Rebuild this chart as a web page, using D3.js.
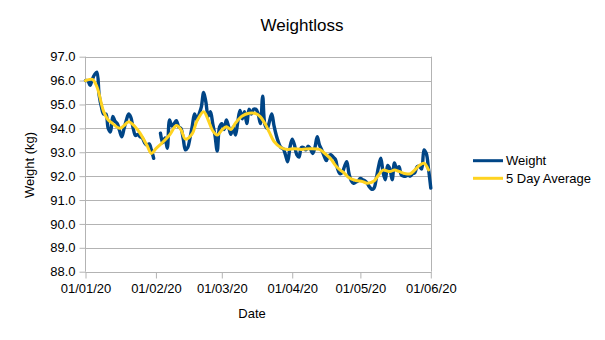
<!DOCTYPE html>
<html>
<head>
<meta charset="utf-8">
<script src="https://cdn.jsdelivr.net/npm/d3@7"></script>
<style>
  html, body { margin: 0; padding: 0; background: #fff; }
  svg { display: block; font-family: "Liberation Sans", Arial, sans-serif; }
</style>
</head>
<body>
<svg id="chart" width="605" height="340"></svg>
<script>
// ---- data ----
const startDate = "2020-01-01";   // daily readings from this date
const weight = [
  96.0, 96.0, 95.8, 96.05, 96.25, 96.35, 95.4, 94.9, 94.6, 94.6,
  94.0, 93.85, 94.5, 94.3, 94.2, 93.9, 93.65, 94.0, 94.35, 94.6,
  94.45, 94.0, 93.7, 93.75, 93.65, 93.6, 93.4, 93.3, 93.35, 93.1,
  92.75, null, null, 93.8, 93.4, 93.6, 93.17, 94.35, 94.1, 94.2,
  94.32, 94.07, 94.0, 93.58, 93.1, 93.2, 93.6, 94.1, 94.6, 94.35,
  94.6, 94.9, 95.5, 95.1, 94.5, 94.7, 94.2, 93.7, 93.05, 94.05,
  94.2, 93.95, 94.35, 94.07, 93.75, 94.05, 93.72, 94.25, 94.75, 94.4,
  94.7, 94.2, 94.8, 94.6, 94.8, 94.8, 94.6, 94.2, 95.35, 94.15,
  94.0, 94.3, 94.6, 94.1, 93.7, 93.4, 93.2, 93.15, 92.9, 92.6,
  93.2, 93.55, 93.3, 92.9, 92.8, 93.2, 93.2, 93.1, 93.25, 93.15,
  92.95, 93.2, 93.65, 93.3, 93.1, 92.85, 92.65, 92.85, 92.9, 92.8,
  92.7, 92.3, 92.1, 92.15, 92.4, 92.6, 92.1, 91.8, 91.7, 91.75,
  91.8, 91.9, 91.85, 91.8, 91.7, 91.55, 91.45, 91.5, 91.9, 92.4,
  92.75, 92.15, 91.85, 92.45, 92.3, 91.85, 92.55, 92.3, 92.4, 92.05,
  92.0, 92.0, 92.05, 92.0, 92.1, 92.15, 92.4, 92.4, 92.3, 93.1,
  92.95, 92.3, 91.5
];
const avgDates = [
  "2020-01-01","2020-01-04","2020-01-06","2020-01-09","2020-01-11","2020-01-13","2020-01-16","2020-01-18",
  "2020-01-20","2020-01-23","2020-01-25","2020-01-28","2020-01-30","2020-02-01","2020-02-04","2020-02-07",
  "2020-02-10","2020-02-12","2020-02-14","2020-02-17","2020-02-19","2020-02-22","2020-02-24","2020-02-26",
  "2020-02-28","2020-03-01","2020-03-03","2020-03-05","2020-03-07","2020-03-10","2020-03-13","2020-03-16",
  "2020-03-18","2020-03-20","2020-03-22","2020-03-24","2020-03-27","2020-03-30","2020-04-02","2020-04-05",
  "2020-04-09","2020-04-13","2020-04-15","2020-04-18","2020-04-20","2020-04-22","2020-04-24","2020-04-26",
  "2020-04-29","2020-05-02","2020-05-04","2020-05-07","2020-05-09","2020-05-11","2020-05-14","2020-05-16",
  "2020-05-18","2020-05-21","2020-05-23","2020-05-25","2020-05-27","2020-05-29","2020-05-31"
];
const avgValues = [
  96.0, 96.05, 95.75, 94.7, 94.35, 94.2, 94.0, 94.12,
  94.28, 94.05, 93.8, 93.3, 92.95, 93.15, 93.42, 93.72,
  94.12, 93.95, 93.55, 93.78, 94.3, 94.7, 94.35, 93.9,
  93.72, 93.93, 94.07, 93.95, 94.22, 94.52, 94.63, 94.62,
  94.48, 94.2, 93.82, 93.45, 93.2, 93.12, 93.15, 93.12,
  93.15, 93.12, 92.98, 92.72, 92.45, 92.26, 92.12, 91.93,
  91.82, 91.77, 91.7, 91.8, 92.05, 92.25, 92.19, 92.26,
  92.2, 92.1, 92.1, 92.26, 92.45, 92.54, 92.26
];
const yTicks = [88, 89, 90, 91, 92, 93, 94, 95, 96, 97];
const xTickDates = ["2020-01-01","2020-02-01","2020-03-01","2020-04-01","2020-05-01","2020-06-01"];
const seriesNames = ["Weight", "5 Day Average"];
const titleText = "Weightloss";
const xTitle = "Date";
const yTitle = "Weight (kg)";

// ---- drawing ----
(function () {
const parse = d3.timeParse("%Y-%m-%d");
const t0 = parse(startDate);
const weightData = weight.map((v, i) => ({ date: d3.timeDay.offset(t0, i), v }));
const avgData = avgDates.map((d, i) => ({ date: parse(d), v: avgValues[i] }));

const svg = d3.select("#chart");
const pL = 85.5, pR = 431.5, pT = 56.7, pB = 271.7;
const blue = "#004586", yellow = "#ffd320", grid = "#b3b3b3";

const x = d3.scaleTime().domain([parse(xTickDates[0]), parse(xTickDates[xTickDates.length - 1])]).range([pL, 430.8]);
const y = d3.scaleLinear().domain([88, 97]).range([pB, pT]);

// title
svg.append("text").attr("x", 302).attr("y", 31).attr("text-anchor", "middle")
  .style("font-size", "17px").attr("fill", "#000").text(titleText);

// grid
svg.append("g").selectAll("line").data(yTicks).join("line")
  .attr("x1", pL).attr("x2", pR)
  .attr("y1", d => Math.round(y(d)) + 0.5).attr("y2", d => Math.round(y(d)) + 0.5)
  .attr("stroke", grid).attr("stroke-width", 1);
// right wall border
svg.append("line").attr("x1", pR).attr("x2", pR).attr("y1", pT).attr("y2", pB)
  .attr("stroke", grid);

// y axis
const yAxis = d3.axisLeft(y).tickValues(yTicks).tickFormat(d3.format(".1f")).tickSize(6).tickPadding(4);
const gy = svg.append("g").attr("transform", `translate(${pL},0)`).call(yAxis);
gy.select(".domain").attr("stroke", grid).attr("d", `M0,${pT}V${pB}`);
gy.selectAll(".tick line").attr("stroke", grid);
gy.selectAll(".tick text").style("font-size", "13px").attr("fill", "#000")
  .attr("font-family", "Liberation Sans, Arial, sans-serif");

// x axis
const xAxis = d3.axisBottom(x).tickValues(xTickDates.map(parse)).tickFormat(d3.timeFormat("%d/%m/%y")).tickSize(6).tickPadding(5);
const gx = svg.append("g").attr("transform", `translate(0,${Math.round(pB) + 0.5})`).call(xAxis);
gx.select(".domain").attr("stroke", grid).attr("d", `M${pL},0H${pR}`);
gx.selectAll(".tick line").attr("stroke", grid);
gx.selectAll(".tick text").style("font-size", "13px").attr("fill", "#000")
  .attr("font-family", "Liberation Sans, Arial, sans-serif");

// axis titles
svg.append("text").attr("x", 252).attr("y", 318).attr("text-anchor", "middle")
  .style("font-size", "13px").attr("fill", "#000").text(xTitle);
svg.append("text").attr("transform", "translate(34,165) rotate(-90)").attr("text-anchor", "middle")
  .style("font-size", "13px").attr("fill", "#000").text(yTitle);

// series
const line = d3.line().defined(d => d.v != null).x(d => x(d.date)).y(d => y(d.v))
  .curve(d3.curveCatmullRom.alpha(0.5));
svg.append("path").datum(weightData).attr("d", line)
  .attr("fill", "none").attr("stroke", blue).attr("stroke-width", 3.4)
  .attr("stroke-linejoin", "round").attr("stroke-linecap", "round");
svg.append("path").datum(avgData).attr("d", line)
  .attr("fill", "none").attr("stroke", yellow).attr("stroke-width", 3)
  .attr("stroke-linejoin", "round").attr("stroke-linecap", "round");

// legend
const legend = svg.append("g");
const legY = [160.7, 178.3];
const legColors = [blue, yellow];
seriesNames.forEach((name, i) => {
  legend.append("line").attr("x1", 473).attr("x2", 503).attr("y1", legY[i]).attr("y2", legY[i])
    .attr("stroke", legColors[i]).attr("stroke-width", 3);
  legend.append("text").attr("x", 506).attr("y", legY[i]).attr("dy", "0.35em")
    .style("font-size", "13px").attr("fill", "#000").text(name);
});
})();
</script>
</body>
</html>
